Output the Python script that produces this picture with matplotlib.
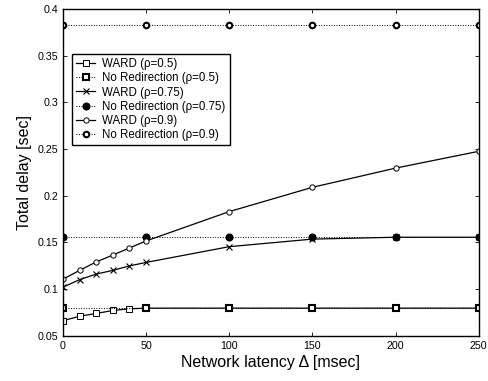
import matplotlib
matplotlib.use("Agg")
import matplotlib.pyplot as plt

plt.rcParams['font.family'] = ['Liberation Sans', 'DejaVu Sans']

# latency values (msec)
x_ward = [0, 10, 20, 30, 40, 50, 100, 150, 200, 250]
x_noredir = [0, 50, 100, 150, 200, 250]

ward_05 = [0.066, 0.0708, 0.0738, 0.077, 0.0788, 0.0795, 0.0795, 0.0795, 0.0795, 0.0795]
ward_075 = [0.102, 0.110, 0.116, 0.120, 0.1248, 0.1285, 0.1454, 0.1535, 0.1555, 0.1555]
ward_09 = [0.1105, 0.120, 0.129, 0.1364, 0.144, 0.1515, 0.183, 0.209, 0.2296, 0.2476]

noredir_05 = [0.0795] * 6
noredir_075 = [0.1555] * 6
noredir_09 = [0.383] * 6

fig = plt.figure(figsize=(4.88, 3.81), dpi=100)
ax = fig.add_axes([0.129, 0.119, 0.852, 0.857])

dots = (0, (1, 1.6))
ax.plot(x_ward, ward_05, '-', color='k', lw=0.9, marker='s', ms=3.8, mfc='white', mec='k', mew=0.7,
        label='WARD (\u03c1=0.5)')
ax.plot(x_noredir, noredir_05, color='k', ls=dots, lw=0.7, marker='s', ms=4, mfc='white', mec='k', mew=1.5,
        label='No Redirection (\u03c1=0.5)')
ax.plot(x_ward, ward_075, '-', color='k', lw=0.9, marker='x', ms=4.2, mec='k', mew=0.8,
        label='WARD (\u03c1=0.75)')
ax.plot(x_noredir, noredir_075, color='k', ls=dots, lw=0.7, marker='o', ms=4.8, mfc='k', mec='k',
        label='No Redirection (\u03c1=0.75)')
ax.plot(x_ward, ward_09, '-', color='k', lw=0.9, marker='o', ms=3.8, mfc='white', mec='k', mew=0.7,
        label='WARD (\u03c1=0.9)')
ax.plot(x_noredir, noredir_09, color='k', ls=dots, lw=0.7, marker='o', ms=4, mfc='white', mec='k', mew=1.5,
        label='No Redirection (\u03c1=0.9)')

ax.set_xlim(0, 250)
ax.set_ylim(0.05, 0.4)
ax.set_xticks([0, 50, 100, 150, 200, 250])
ax.set_yticks([0.05, 0.1, 0.15, 0.2, 0.25, 0.3, 0.35, 0.4])
ax.set_yticklabels(['0.05', '0.1', '0.15', '0.2', '0.25', '0.3', '0.35', '0.4'])
ax.tick_params(direction='in', top=True, right=True, labelsize=7.7, length=3, width=0.6)
for s in ax.spines.values():
    s.set_linewidth(1.0)

ax.set_xlabel('Network latency \u0394 [msec]', fontsize=11.5, labelpad=3)
ax.set_ylabel('Total delay [sec]', fontsize=11.5, labelpad=4)

leg = ax.legend(loc='upper left', bbox_to_anchor=(0.021, 0.863), borderaxespad=0,
                fontsize=8.3, handlelength=1.7, handletextpad=0.6, labelspacing=0.2,
                borderpad=0.35, fancybox=False, framealpha=1, edgecolor='k')
leg.get_frame().set_linewidth(1.0)

fig.savefig('out.png', dpi=100)
